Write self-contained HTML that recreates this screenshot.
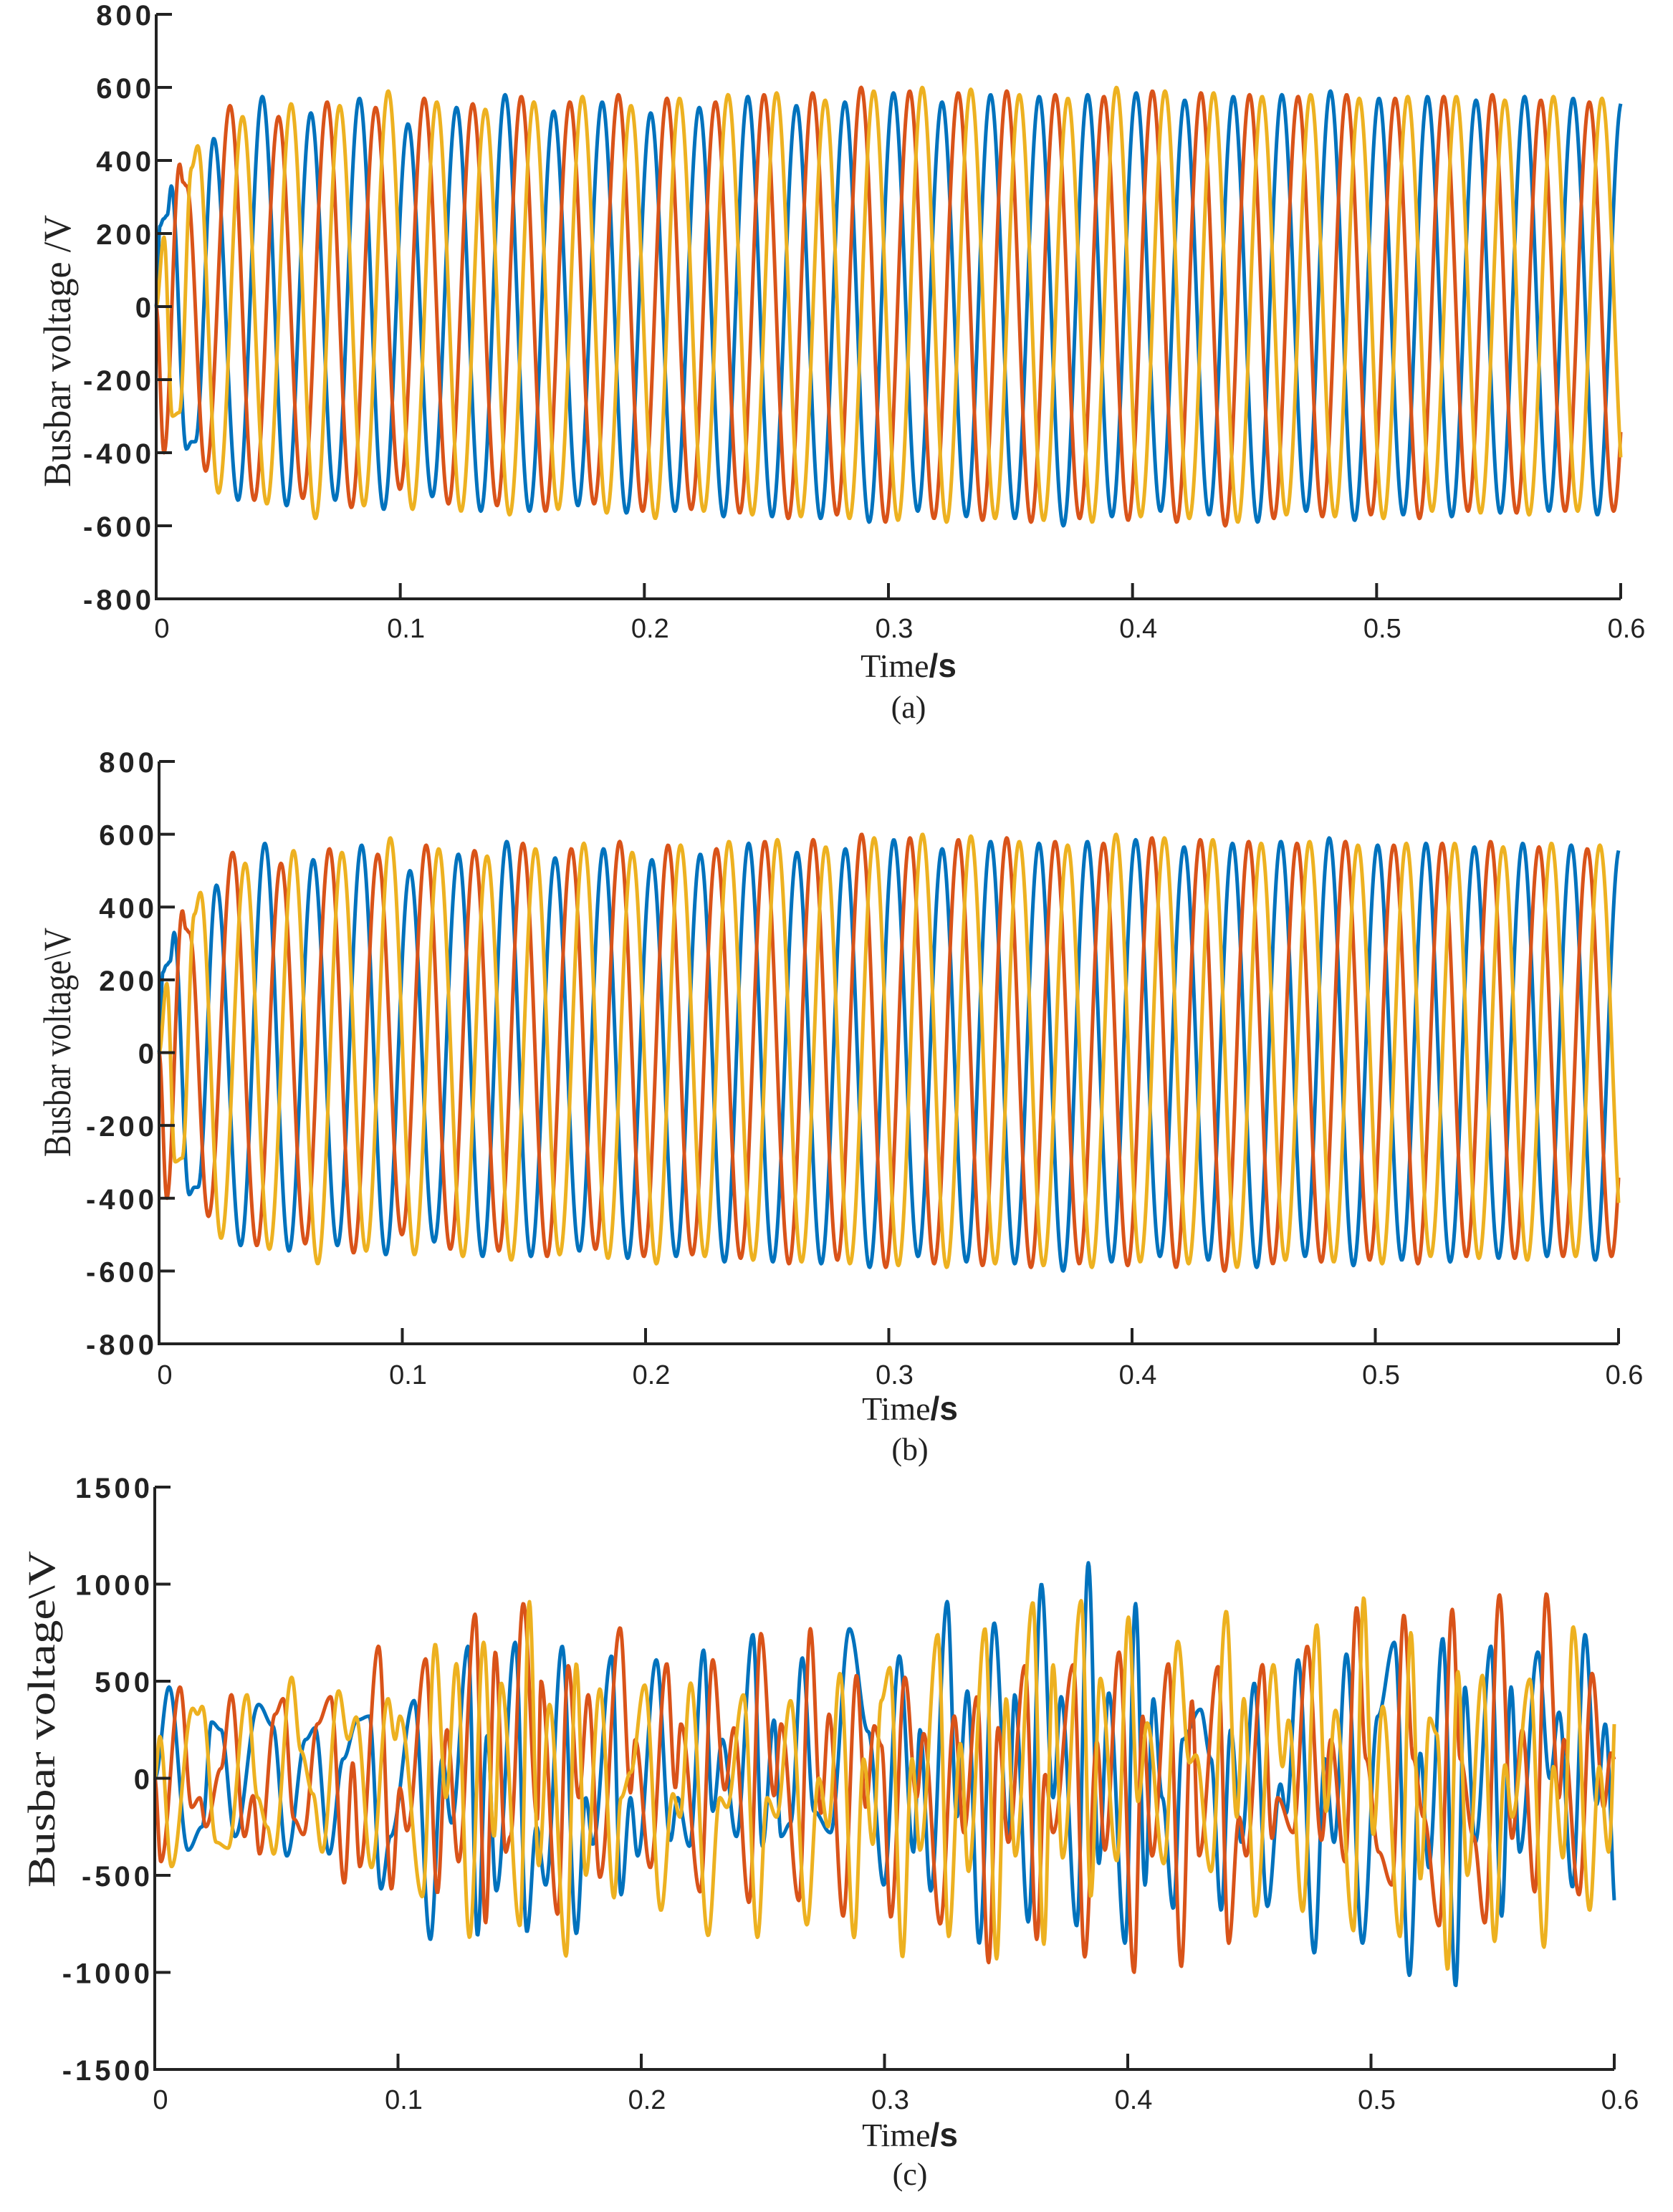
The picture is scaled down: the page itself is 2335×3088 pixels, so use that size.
<!DOCTYPE html>
<html><head><meta charset="utf-8"><style>
html,body{margin:0;padding:0;background:#fff;}
svg{display:block;}
.yt{font-family:"Liberation Sans",sans-serif;font-weight:bold;font-size:40px;fill:#222;letter-spacing:5px;}
.xt{font-family:"Liberation Sans",sans-serif;font-size:38px;fill:#222;}
.lab{font-family:"Liberation Serif",serif;fill:#222;}
</style></head><body>
<svg id="fig" width="2335" height="3088" viewBox="0 0 2335 3088" xmlns="http://www.w3.org/2000/svg"></svg>
<script>
// ---------- Data: panels (a) and (b) (times in ms, voltages in V) ----------
const tickX = [0, 0.1, 0.2, 0.3, 0.4, 0.5, 0.6];
const tickXLabels = ["0", "0.1", "0.2", "0.3", "0.4", "0.5", "0.6"];
const tickYab = [800, 600, 400, 200, 0, -200, -400, -600, -800];
const tickYabLabels = ["800", "600", "400", "200", "0", "-200", "-400", "-600", "-800"];
const tickYc = [1500, 1000, 500, 0, -500, -1000, -1500];
const tickYcLabels = ["1500", "1000", "500", "0", "-500", "-1000", "-1500"];

const halfPeriodMs = 9.945;
const blueTransT = [0, 1.5, 3, 4.5, 6.2, 12.4, 14.5, 16];
const blueTransV = [0, 220, 240, 250, 330, -390, -370, -370];
const blueStartMs = 23.6;
const blueExt = [460,-530,575,-545,530,-530,570,-555,500,-520,545,-560,580,-560,535,-545,560,-565,530,-560,545,-575,575,-575,550,-580,560,-590,585,-560,560,-575,580,-580,575,-600,580,-575,585,-560,565,-570,575,-590,580,-560,590,-585,570,-570,575,-575,565,-565,575,-560,570,-570,560];
const redTransT = [0, 3.2, 9.6, 11, 12.5];
const redTransV = [0, -400, 390, 340, 330];
const redStartMs = 20.3;
const redExt = [-450,550,-530,520,-525,560,-550,545,-500,570,-540,555,-545,575,-560,560,-540,580,-560,570,-555,560,-565,580,-580,585,-570,600,-590,590,-580,585,-585,590,-590,580,-580,575,-585,590,-590,585,-600,580,-580,575,-575,580,-570,570,-580,575,-560,580,-565,565,-560,560,-560,555];
const yellowTransT = [0, 3.2, 6.6, 9.5, 14.5, 17, 25.5];
const yellowTransV = [0, 190, -300, -290, 380, 440, -510];
const yellowStartMs = 35.4;
const yellowExt = [520,-540,555,-580,550,-545,590,-555,560,-560,540,-570,560,-555,575,-565,550,-580,570,-560,580,-570,585,-575,565,-580,590,-585,600,-590,595,-580,580,-585,570,-590,600,-575,590,-580,585,-590,575,-570,580,-575,570,-580,575,-560,575,-565,565,-570,575,-560,570,-550,575];

// ---------- Data: panel (c) local extrema (ms, V) ----------
const cBlueT = [0,5.9,13.7,19.5,23.4,27.2,33.0,42.7,48.5,54.3,62.1,65.9,71.7,77.5,83.3,88.2,93.0,96.9,106.6,113.3,118.2,122.0,128.8,132.7,136.6,140.4,148.2,153.0,156.9,160.7,167.5,173.3,177.2,180.1,187.8,191.7,195.6,198.5,206.2,212.0,214.9,219.8,225.6,229.4,233.3,239.1,245.9,249.8,254.6,257.5,261.4,266.2,271.0,277.8,285.6,293.3,299.7,306.1,311.9,314.6,319.0,325.8,329.7,334.1,338.9,345.1,350.9,353.5,359.1,364.5,369.3,372.6,379.0,383.8,388.1,392.2,398.9,403.2,407.1,410.5,414.2,418.7,422.5,429.9,434.2,438.4,442.3,446.7,452.0,457.4,462.8,465.1,470.0,476.7,481.0,484.8,489.9,496.5,502.8,509.6,515.8,520.3,523.7,529.5,534.8,538.6,542.9,549.3,553.7,557.6,561.1,568.6,573.5,577.3,582.8,588.0,592.8,596.3,600.9];
const cBlueV = [0,470,-370,-250,290,250,-300,380,270,-400,200,260,-390,100,300,320,-570,-300,400,-830,100,-230,680,-810,220,-580,700,-790,-250,-550,680,-800,-100,-340,630,-600,-100,-400,610,-320,-100,-350,660,-170,200,-300,740,-350,300,-300,-230,620,-170,-280,770,240,-550,630,-380,250,-580,910,-200,450,-850,800,-300,430,-740,1000,-100,420,-760,1110,-440,440,-850,900,-550,410,-100,-670,200,355,100,-680,250,-330,490,-660,-30,-180,610,-900,100,-330,640,-850,320,700,-1015,130,-460,720,-1070,470,-330,680,-710,470,-380,650,0,340,-560,740,-135,280,-720];
const cRedT = [0,2.5,10.4,15.2,18.5,21.0,27.2,31.5,36.9,40.4,43.1,49.5,52.8,57.2,61.1,66.9,72.3,77.9,81.4,84.3,92.0,97.3,100.8,103.7,111.4,116.2,120.1,124.9,131.7,136.0,140.0,144.3,146.2,151.5,157.3,158.8,165.6,170.0,174.3,178.2,183.0,191.3,195.6,197.5,203.7,210.5,214.0,216.3,224.2,229.4,234.3,238.1,244.3,249.2,254.6,257.5,264.8,269.5,273.9,277.2,283.0,288.5,292.3,295.8,298.7,302.6,308.4,313.2,316.1,322.9,328.7,332.6,338.0,342.8,346.7,350.9,357.7,362.6,366.0,369.3,377.6,382.3,387.3,390.6,396.4,402.6,406.1,410.0,416.7,422.0,426.4,429.3,437.1,441.5,445.8,448.7,455.4,459.3,461.6,468.0,473.8,479.6,483.5,489.3,494.1,498.0,503.2,508.6,513.5,517.4,521.6,528.0,533.4,536.7,542.1,546.8,552.8,558.0,562.2,567.3,572.1,577.3,579.3,585.5,590.9,595.7,598.6,601.5];
const cRedV = [0,-430,470,-150,-100,-250,50,430,-300,-90,-390,330,410,-210,-290,280,420,-540,80,-455,680,-570,-50,-270,615,-590,250,-430,845,-745,650,-380,-300,900,-210,500,-700,580,-100,430,-510,775,-75,200,-460,590,-50,280,-585,610,-60,260,-640,745,-90,280,-630,770,-180,330,-710,530,-150,270,170,-715,520,-100,230,-750,320,-280,420,-950,260,-330,580,-830,20,-280,585,-920,190,-370,650,-1000,320,-400,590,-970,400,-400,575,-850,-200,-400,585,-310,-100,-280,680,-320,200,-430,880,100,-380,-550,840,100,-200,-760,870,100,-300,-745,945,-310,250,-585,950,-100,200,-600,540,-150,130,60];
const cYellowT = [0,2.1,6.9,15.6,17.6,19.5,25.3,30.1,37.9,42.3,46.2,48.9,56.3,60.1,65.0,68.8,75.6,79.5,82.8,89.1,95.9,98.8,100.8,110.0,115.3,119.7,124.0,129.4,135.2,139.5,142.4,150.1,154.0,157.8,162.3,169.1,173.3,177.2,183.0,188.8,191.7,195.6,201.4,208.1,213.0,215.9,220.3,227.5,232.3,235.2,242.0,247.8,251.7,255.6,261.4,268.1,273.0,276.8,281.7,287.5,291.4,295.2,298.7,302.2,307.4,311.3,314.6,321.9,326.4,331.2,334.5,341.3,346.1,350.0,353.8,361.0,365.5,369.3,373.2,380.9,384.8,388.7,395.5,400.3,404.2,408.0,414.8,420.6,425.4,428.0,434.2,440.5,444.8,447.7,452.5,459.9,463.6,466.1,471.9,477.7,481.6,485.4,492.8,497.0,500.9,504.8,511.9,516.4,520.3,524.1,527.0,531.5,535.7,539.6,545.8,550.8,555.1,558.0,565.3,571.1,575.0,578.9,583.1,589.9,593.8,597.7,601.5];
const cYellowV = [0,215,-455,360,330,370,-330,-360,430,-100,-250,-390,520,140,-80,-380,450,200,315,-460,410,200,320,-610,690,-100,590,-820,700,-300,490,-760,910,-450,380,-915,590,-500,460,-615,-100,30,480,-680,-80,-200,490,-810,-100,-150,430,-820,-100,-200,400,-755,0,-250,540,-820,100,-340,400,570,-920,100,-370,740,-815,180,-480,770,-930,410,-400,905,-855,585,-410,915,-610,515,-425,830,-120,285,-440,705,80,120,-480,860,-200,410,-710,585,60,300,-685,790,-170,350,-785,930,-290,370,-815,750,-520,310,230,-985,550,-500,530,-840,70,-200,510,-870,60,-410,780,-680,60,-380,615];

// ---------- Helpers ----------
const NS = "http://www.w3.org/2000/svg";
const svg = document.getElementById("fig");
function mk(tag, attrs, parent) {
  const e = document.createElementNS(NS, tag);
  for (const k in attrs) e.setAttribute(k, attrs[k]);
  (parent || svg).appendChild(e);
  return e;
}
function buildExtrema(transT, transV, startMs, ext) {
  const T = transT.slice(), V = transV.slice();
  for (let j = 0; j < ext.length; j++) { T.push(startMs + j * halfPeriodMs); V.push(ext[j]); }
  return [T, V];
}
function interp(T, V, t) {
  if (t <= T[0]) return V[0];
  for (let i = 0; i < T.length - 1; i++) {
    if (t <= T[i + 1]) {
      const u = (t - T[i]) / (T[i + 1] - T[i]);
      return V[i] + (V[i + 1] - V[i]) * (1 - Math.cos(Math.PI * u)) / 2;
    }
  }
  return V[V.length - 1];
}
const colors = { blue: "#0072BD", red: "#D95319", yellow: "#EDB120" };

function panel(p) {
  const g = mk("g", {});
  
  
  const sx = s => p.x0 + (s / 0.6) * (p.x1 - p.x0);
  const sy = v => p.yTop + (p.yMax - v) / (p.yMax - p.yMin) * (p.yBot - p.yTop);
  const sg = mk("g", {}, g);
  
  
  p.series.forEach(s => {
    let d = "";
    for (let px = p.x0; px <= p.x1; px += 1) {
      const tms = (px - p.x0) / (p.x1 - p.x0) * 600;
      const v = interp(s.T, s.V, tms);
      d += (px === p.x0 ? "M" : "L") + px.toFixed(1) + " " + sy(v).toFixed(1);
    }
    const path = mk("path", { d: d, fill: "none", stroke: colors[s.color], "stroke-width": 5, "stroke-linejoin": "round" }, sg);
    
    
  });
  const ax = mk("path", { d: `M${p.x0} ${p.yTop}V${p.yBot}H${p.x1}`, fill: "none", stroke: "#222", "stroke-width": 4 }, g);
  
  
  p.yTicks.forEach((v, i) => {
    const y = sy(v);
    const tk = mk("line", { x1: p.x0, y1: y, x2: p.x0 + 22, y2: y, stroke: "#222", "stroke-width": 4 }, g);
    
    
    const tx = mk("text", { x: p.x0 - 2, y: y + 15, "text-anchor": "end", class: "yt" }, g);
    tx.textContent = p.yLabels[i];
    
    
  });
  tickX.forEach((s, i) => {
    const x = sx(s);
    if (i > 0) {
      const tk = mk("line", { x1: x, y1: p.yBot, x2: x, y2: p.yBot - 22, stroke: "#222", "stroke-width": 4 }, g);
      
      
    }
    const tx = mk("text", { x: x + 8, y: p.xLabY, "text-anchor": "middle", class: "xt" }, g);
    tx.textContent = tickXLabels[i];
    
    
  });
  const yl = mk("text", { x: 0, y: 0, class: "lab", "font-size": 54, "text-anchor": "middle",
    transform: `translate(${p.ylX},${p.ylY}) rotate(-90)`, textLength: p.ylLen, lengthAdjust: "spacingAndGlyphs" }, g);
  yl.textContent = p.ylText;
  
  
  const xl = mk("text", { x: p.xtX, y: p.xtY, "text-anchor": "middle", class: "lab", "font-size": 46 }, g);
  
  
  xl.innerHTML = 'Time<tspan font-family="Liberation Sans, sans-serif" font-weight="bold">/s</tspan>';
  const cap = mk("text", { x: p.xtX, y: p.capY, "text-anchor": "middle", class: "lab", "font-size": 44 }, g);
  cap.textContent = p.cap;
  
  
}

const [bT, bV] = buildExtrema(blueTransT, blueTransV, blueStartMs, blueExt);
const [rT, rV] = buildExtrema(redTransT, redTransV, redStartMs, redExt);
const [yT, yV] = buildExtrema(yellowTransT, yellowTransV, yellowStartMs, yellowExt);
const abSeries = [{ T: bT, V: bV, color: "blue" }, { T: rT, V: rV, color: "red" }, { T: yT, V: yV, color: "yellow" }];

panel({ name: "panel-a", x0: 218, x1: 2262, yTop: 20, yBot: 836, yMax: 800, yMin: -800,
  yTicks: tickYab, yLabels: tickYabLabels, series: abSeries, xLabY: 890,
  ylX: 98, ylY: 490, ylLen: 380, ylText: "Busbar voltage /V", xtX: 1268, xtY: 945, capY: 1002, cap: "(a)" });
panel({ name: "panel-b", x0: 222, x1: 2259, yTop: 1063, yBot: 1876, yMax: 800, yMin: -800,
  yTicks: tickYab, yLabels: tickYabLabels, series: abSeries, xLabY: 1932,
  ylX: 98, ylY: 1455, ylLen: 320, ylText: "Busbar voltage\\V", xtX: 1270, xtY: 1982, capY: 2038, cap: "(b)" });
panel({ name: "panel-c", x0: 216, x1: 2253, yTop: 2076, yBot: 2889, yMax: 1500, yMin: -1500,
  yTicks: tickYc, yLabels: tickYcLabels,
  series: [{ T: cBlueT, V: cBlueV, color: "blue" }, { T: cRedT, V: cRedV, color: "red" }, { T: cYellowT, V: cYellowV, color: "yellow" }],
  xLabY: 2944, ylX: 76, ylY: 2400, ylLen: 470, ylText: "Busbar voltage\\V", xtX: 1270, xtY: 2996, capY: 3050, cap: "(c)" });
</script>
</body></html>
